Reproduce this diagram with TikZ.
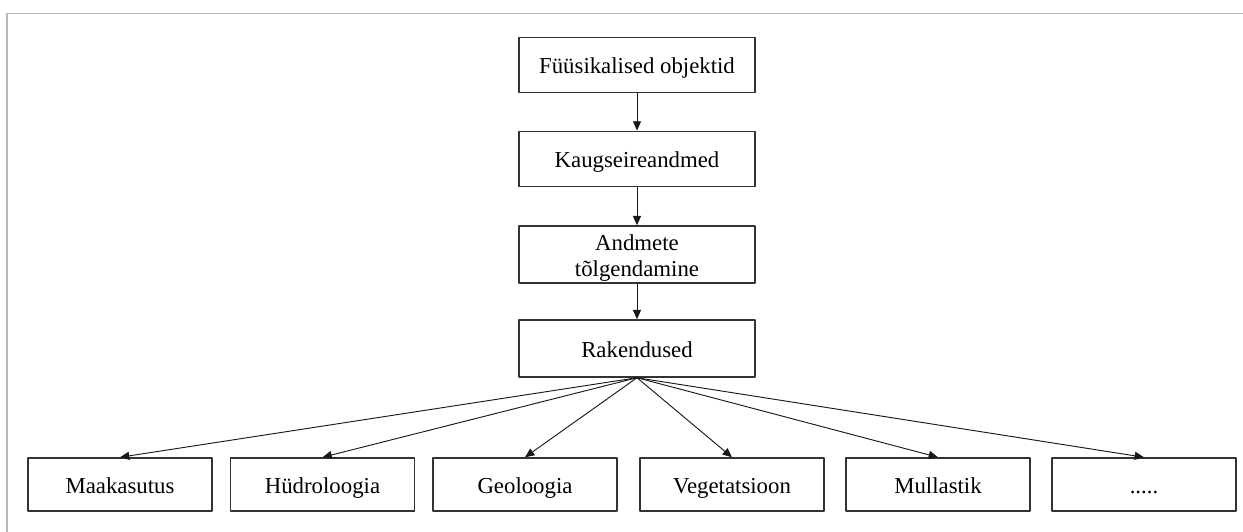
\documentclass[tikz,border=0pt]{standalone}
\usepackage{fontspec}
\setmainfont{Liberation Serif}
\usepackage{tikz}
\usetikzlibrary{arrows.meta}
\definecolor{bfbfbf}{rgb}{0.72,0.72,0.72}
\definecolor{uuuuuu}{rgb}{0.2,0.2,0.2}
\definecolor{ububub}{rgb}{0.1,0.1,0.1}
\tikzset{
  kast/.style={draw=uuuuuu,line width=1.1pt,fill=white,inner sep=0pt,align=center,
    minimum height=41.5pt,font=\fontsize{17.1}{19.5}\selectfont},
  rida/.style={text height=14pt,text depth=1pt},
  ylem/.style={kast,minimum width=177pt},
  alam/.style={kast,rida,minimum width=138pt,minimum height=39.75pt},
  nool/.style={draw=ububub,line width=0.7pt,-{Triangle[length=7pt,width=6pt]}}
}
\begin{document}
\begin{tikzpicture}[line cap=round,line join=round,x=0.75pt,y=-0.75pt]
\useasboundingbox (0,0) rectangle (1243,532);
\draw[color=bfbfbf,line width=1.1pt] (1243,13.5) -- (7,13.5) -- (7,532);
\node[ylem,rida] (fyys) at (637,65) {Füüsikalised objektid};
\node[ylem,rida] (kaug) at (637,159) {Kaugseireandmed};
\node[ylem,minimum height=42.75pt] (tolg) at (637,254.5) {\rule{0pt}{17pt}Andmete\\tõlgendamine};
\node[ylem,rida,minimum height=42.75pt] (rak) at (637,348.5) {Rakendused};
\node[alam,text height=15pt] (maa) at (120,484.5) {Maakasutus};
\node[alam,text height=15pt] (hyd) at (322.5,484.5) {Hüdroloogia};
\node[alam,text height=15pt] (geo) at (525,484.5) {Geoloogia};
\node[alam,text height=15pt] (veg) at (732,484.5) {Vegetatsioon};
\node[alam,text height=15pt] (mul) at (938,484.5) {Mullastik};
\node[alam,text height=15pt] (muu) at (1144,484.5) {.....};
\draw[nool] (fyys) -- (kaug);
\draw[nool] (kaug) -- (tolg);
\draw[nool] (tolg) -- (rak);
\foreach \k in {maa,hyd,geo,veg,mul,muu}
  \draw[nool] (rak.south) -- (\k.north);
\end{tikzpicture}
\end{document}
